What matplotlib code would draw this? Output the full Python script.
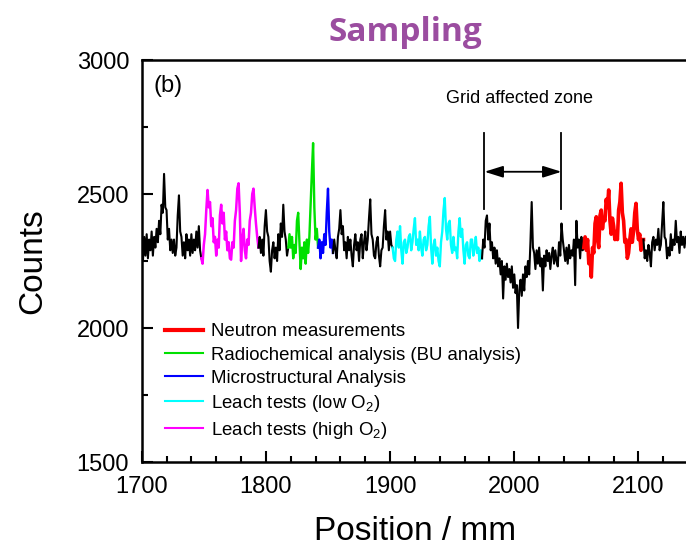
import numpy as np
import matplotlib
matplotlib.use("Agg")
import matplotlib.pyplot as plt
from matplotlib.ticker import MultipleLocator
from matplotlib.lines import Line2D

plt.rcParams['font.family'] = ['Liberation Sans', 'DejaVu Sans']
plt.rcParams['mathtext.default'] = 'regular'

STEP = 1  # mm between measurement points

# ---- data (counts, 1 mm spacing) ----
black1_start = 1700
black1 = [2330, 2250, 2340, 2270, 2350, 2260, 2330, 2290, 2360, 2270,
          2340, 2300, 2370, 2320, 2400, 2350, 2460, 2430, 2575, 2450,
          2440, 2330, 2370, 2290, 2330, 2280, 2330, 2270, 2300, 2420,
          2495, 2360, 2340, 2270, 2320, 2260, 2350, 2290, 2330, 2270,
          2350, 2280, 2330, 2290, 2360, 2300, 2380, 2290, 2260]
magenta_start = 1748
magenta = [2260, 2240, 2310, 2350, 2440, 2515, 2450, 2470, 2380, 2410,
           2320, 2340, 2270, 2330, 2300, 2420, 2460, 2390, 2430, 2330,
           2360, 2290, 2320, 2260, 2255, 2320, 2300, 2400, 2440, 2520,
           2540, 2430, 2250, 2330, 2370, 2290, 2260, 2330, 2310, 2400,
           2430, 2500, 2520, 2450, 2390, 2340, 2300]
black2_start = 1794
black2 = [2300, 2340, 2280, 2330, 2270, 2380, 2440, 2360, 2340, 2250,
          2210, 2290, 2320, 2260, 2300, 2250, 2350, 2290, 2390, 2340,
          2460, 2360, 2330, 2270, 2300]
green_start = 1818
green = [2300, 2350, 2300, 2340, 2260, 2310, 2280, 2400, 2430, 2320,
         2220, 2300, 2260, 2320, 2240, 2330, 2280, 2340, 2460, 2580,
         2690, 2450, 2330, 2370, 2300]
blue_start = 1842
blue = [2300, 2330, 2260, 2320, 2280, 2350, 2310, 2430, 2520, 2360,
        2300, 2330, 2280]
black3_start = 1854
black3 = [2280, 2330, 2290, 2260, 2340, 2370, 2440, 2350, 2380, 2290,
          2320, 2260, 2340, 2290, 2330, 2270, 2230, 2310, 2350, 2290,
          2320, 2250, 2330, 2350, 2260, 2320, 2360, 2290, 2330, 2410,
          2480, 2350, 2330, 2270, 2260, 2320, 2340, 2270, 2230, 2290,
          2300, 2380, 2440, 2330, 2360, 2290, 2360, 2310, 2300]
cyan_start = 1902
cyan = [2300, 2260, 2250, 2330, 2360, 2300, 2380, 2290, 2240, 2320,
        2330, 2280, 2300, 2340, 2350, 2290, 2320, 2370, 2410, 2310,
        2330, 2290, 2360, 2300, 2270, 2330, 2340, 2290, 2310, 2380,
        2415, 2300, 2240, 2310, 2330, 2270, 2300, 2250, 2230, 2320,
        2360, 2440, 2485, 2370, 2330, 2390, 2400, 2310, 2280, 2340,
        2290, 2300, 2260, 2360, 2410, 2340, 2370, 2290, 2240, 2310,
        2320, 2270, 2260, 2330, 2330, 2270, 2300, 2340, 2280, 2300,
        2250, 2290, 2260]
black4_start = 1974
black4 = [2260, 2330, 2300, 2400, 2420, 2330, 2390, 2290, 2320, 2260,
          2300, 2240, 2290, 2230, 2260, 2200, 2250, 2110, 2230, 2180,
          2240, 2190, 2220, 2170, 2230, 2150, 2200, 2130, 2160, 2000,
          2140, 2180, 2120, 2200, 2140, 2230, 2190, 2250, 2200, 2320,
          2470, 2300, 2280, 2220, 2290, 2240, 2300, 2230, 2260, 2140,
          2270, 2230, 2290, 2250, 2280, 2220, 2270, 2300, 2240, 2290,
          2250, 2230, 2320, 2270, 2390, 2330, 2290, 2250, 2300, 2240,
          2310, 2260, 2290, 2270, 2330, 2160, 2400, 2300, 2330, 2260,
          2340, 2290, 2300]
red_start = 2056
red = [2300, 2340, 2290, 2330, 2240, 2270, 2190, 2300, 2280, 2390,
       2415, 2330, 2300, 2420, 2440, 2370, 2410, 2400, 2480, 2450,
       2515, 2400, 2350, 2410, 2380, 2330, 2360, 2330, 2440, 2470,
       2540, 2430, 2400, 2320, 2330, 2260, 2280, 2330, 2370, 2320,
       2360, 2430, 2465, 2370, 2330, 2350, 2290, 2330, 2330]
black5_start = 2104
black5 = [2330, 2260, 2290, 2250, 2310, 2280, 2230, 2320, 2340, 2290,
          2330, 2310, 2370, 2290, 2310, 2390, 2470, 2340, 2330, 2260,
          2300, 2270, 2350, 2290, 2330, 2310, 2400, 2320, 2340, 2280,
          2360, 2310, 2340, 2300, 2340]

grid_zone = [1976, 2038]

legend_labels = ["Neutron measurements", "Radiochemical analysis (BU analysis)",
                 "Microstructural Analysis", "Leach tests (low O$_2$)",
                 "Leach tests (high O$_2$)"]

x_ticks = [1700, 1800, 1900, 2000, 2100]
y_ticks = [1500, 2000, 2500, 3000]

# ---- figure ----
fig = plt.figure(figsize=(6.86, 5.49), dpi=100)
ax = fig.add_axes([141.7 / 686, 87 / 549, (686 - 141.7) / 686, 402 / 549])

def seg(start, vals, color, lw):
    x = start + STEP * np.arange(len(vals))
    ax.plot(x, vals, color=color, lw=lw, zorder=3)

seg(black1_start, black1, 'black', 1.5)
seg(magenta_start, magenta, '#FF00FF', 1.8)
seg(black2_start, black2, 'black', 1.5)
seg(green_start, green, '#00E000', 1.7)
seg(blue_start, blue, '#0000FF', 1.7)
seg(black3_start, black3, 'black', 1.5)
seg(cyan_start, cyan, '#00FFFF', 1.7)
seg(black4_start, black4, 'black', 1.5)
seg(red_start, red, '#FF0000', 2.6)
seg(black5_start, black5, 'black', 1.5)

ax.set_xlim(1700, 1700 + 544.3 / 1.242)
ax.set_ylim(1500, 3000)
ax.set_xticks(x_ticks)
ax.set_yticks(y_ticks)
ax.xaxis.set_minor_locator(MultipleLocator(20))
ax.yaxis.set_minor_locator(MultipleLocator(250))
ax.tick_params(which='both', direction='in', width=1.5, labelsize=17,
               top=False, right=False)
ax.tick_params(which='major', length=8)
ax.tick_params(which='minor', length=4.5)
ax.tick_params(axis='x', pad=10)
ax.tick_params(axis='y', pad=9)
for s in ['left', 'bottom', 'top']:
    ax.spines[s].set_linewidth(1.8)
ax.spines['right'].set_visible(False)

ax.set_xlabel("Position / mm", fontsize=24)
ax.set_ylabel("Counts", fontsize=24)
ax.xaxis.set_label_coords(0.502, -0.135)
ax.yaxis.set_label_coords(-0.172, 0.5)

# annotations
ax.text(0.021, 0.962, "(b)", transform=ax.transAxes, fontsize=17, va='top', ha='left')
ax.text(np.mean(grid_zone) - 3, 2858, "Grid affected zone", fontsize=13, ha='center', va='center')
for gx in grid_zone:
    ax.plot([gx, gx], [2444, 2728], color='black', lw=1.3)
ax.annotate("", xy=(grid_zone[0], 2583), xytext=(grid_zone[1], 2583),
            arrowprops=dict(arrowstyle='<|-|>,head_length=0.7,head_width=0.22',
                            color='black', lw=1.3,
                            mutation_scale=16, shrinkA=0, shrinkB=0))

# legend
colors = ['#FF0000', '#00E000', '#0000FF', '#00FFFF', '#FF00FF']
widths = [3.0, 1.5, 1.5, 1.5, 1.5]
handles = [Line2D([], [], color=c, lw=w) for c, w in zip(colors, widths)]
ax.legend(handles, legend_labels, loc='upper left', bbox_to_anchor=(0.0428, 0.345),
          frameon=False, fontsize=13.4, handlelength=2.05, handletextpad=0.42,
          labelspacing=0.33, borderpad=0, borderaxespad=0)

fig.text(405 / 686, 1 - 41 / 549, "Sampling", fontsize=24, fontweight='bold',
         family=['Open Sans', 'DejaVu Sans'], color='#9B4DA0', ha='center', va='baseline')

fig.savefig("out.png", dpi=100)
